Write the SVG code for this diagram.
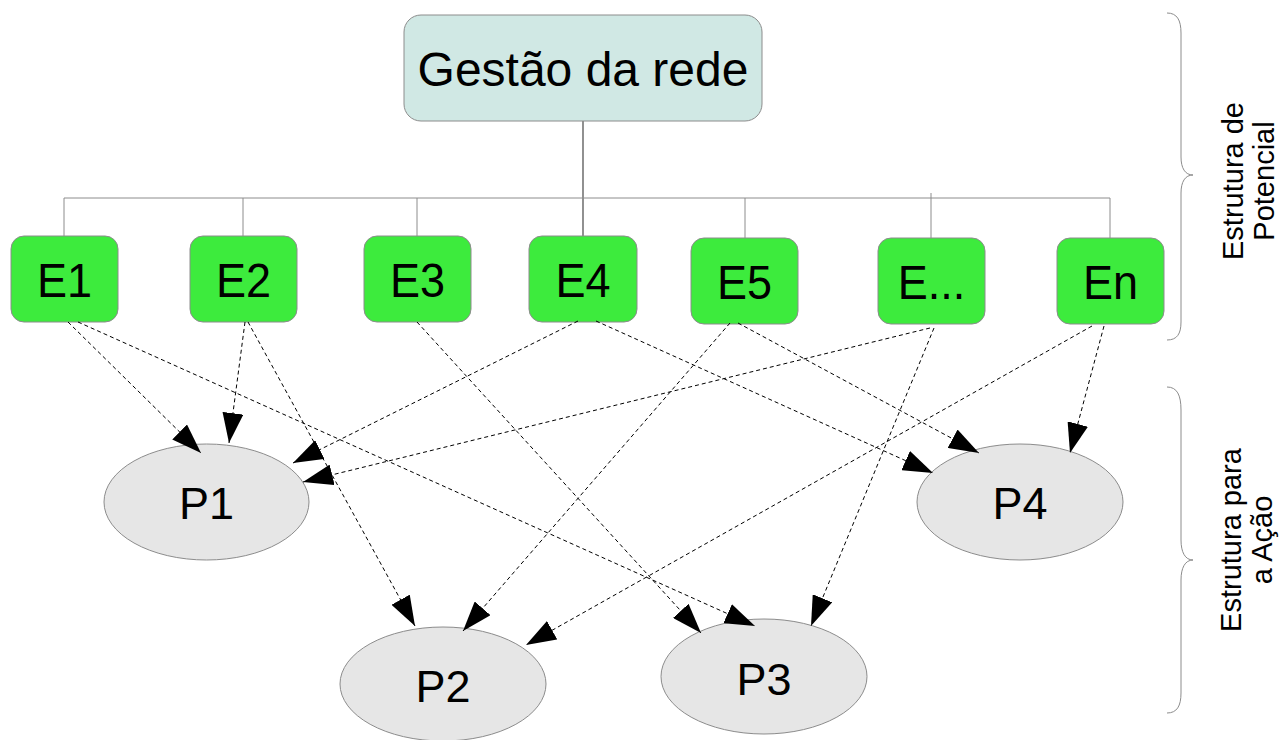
<svg xmlns="http://www.w3.org/2000/svg" width="1281" height="740" viewBox="0 0 1281 740">
  <defs>
    <marker id="arrow" markerUnits="userSpaceOnUse" markerWidth="30" markerHeight="21" refX="30" refY="10.5" orient="auto">
      <path d="M0,0 L30,10.5 L0,21 Z" fill="#000"/>
    </marker>
    <style>
      .label { font-family: "Liberation Sans", Arial, sans-serif; fill: #000; text-anchor: middle; }
      .title { font-size: 48px; }
      .ent { font-size: 45px; }
      .side { font-size: 29px; }
      .ebox { fill: #3deb3d; stroke: #8c8c8c; stroke-width: 1; }
      .pell { fill: #e6e6e6; stroke: #8c8c8c; stroke-width: 1; }
      .tree { fill: none; stroke: #8c8c8c; stroke-width: 1; }
      .flow { fill: none; stroke: #000; stroke-width: 1; stroke-dasharray: 4 3; marker-end: url(#arrow); }
      .brace { fill: none; stroke: #8c8c8c; stroke-width: 1; }
    </style>
  </defs>

  <rect width="1281" height="740" fill="#fff"/>

  <!-- hierarchy lines -->
  <g id="tree-lines">
    <line class="tree" x1="583" y1="121" x2="583" y2="236" style="stroke:#555;stroke-width:1.3"/>
    <line class="tree" x1="64" y1="198" x2="1110" y2="198"/>
    <line class="tree" x1="64" y1="198" x2="64" y2="236"/>
    <line class="tree" x1="243" y1="198" x2="243" y2="236"/>
    <line class="tree" x1="417" y1="198" x2="417" y2="236"/>
    <line class="tree" x1="745" y1="198" x2="745" y2="238"/>
    <line class="tree" x1="931" y1="193" x2="931" y2="238"/>
    <line class="tree" x1="1110" y1="198" x2="1110" y2="238"/>
  </g>

  <g id="gestao">
    <rect x="404" y="15" width="358" height="106" rx="17" fill="#d0e8e4" stroke="#8c8c8c"/>
    <text class="label title" x="583" y="86">Gestão da rede</text>
  </g>

  <!-- entity labels are drawn slightly tall -->
  <g id="E1"><rect class="ebox" x="11" y="236" width="107" height="86" rx="13"/><text class="label ent" transform="translate(64.5,297) scale(1,1.07)">E1</text></g>
  <g id="E2"><rect class="ebox" x="190" y="236" width="107" height="86" rx="13"/><text class="label ent" transform="translate(243.5,297) scale(1,1.07)">E2</text></g>
  <g id="E3"><rect class="ebox" x="364" y="236" width="107" height="86" rx="13"/><text class="label ent" transform="translate(417.5,297) scale(1,1.07)">E3</text></g>
  <g id="E4"><rect class="ebox" x="529" y="236" width="108" height="86" rx="13"/><text class="label ent" transform="translate(583,297) scale(1,1.07)">E4</text></g>
  <g id="E5"><rect class="ebox" x="691" y="238" width="107" height="86" rx="13"/><text class="label ent" transform="translate(744.5,299) scale(1,1.07)">E5</text></g>
  <g id="Edots"><rect class="ebox" x="878" y="238" width="107" height="86" rx="13"/><text class="label ent" transform="translate(931.5,299) scale(1,1.07)">E...</text></g>
  <g id="En"><rect class="ebox" x="1057" y="238" width="107" height="86" rx="13"/><text class="label ent" transform="translate(1110.5,299) scale(1,1.07)">En</text></g>

  <g id="P1"><ellipse class="pell" cx="206.5" cy="502" rx="102.5" ry="58"/><text class="label ent" x="206.5" y="519">P1</text></g>
  <g id="P2"><ellipse class="pell" cx="443" cy="684" rx="103" ry="57"/><text class="label ent" x="443" y="702">P2</text></g>
  <g id="P3"><ellipse class="pell" cx="764" cy="676.5" rx="103" ry="57.5"/><text class="label ent" x="764" y="695">P3</text></g>
  <g id="P4"><ellipse class="pell" cx="1020" cy="502" rx="103" ry="58"/><text class="label ent" x="1020" y="519">P4</text></g>

  <!-- dashed links from entities to projects -->
  <g id="connectors">
    <line class="flow" x1="68" y1="322" x2="201" y2="453"/>
    <line class="flow" x1="78" y1="322" x2="755" y2="626"/>
    <line class="flow" x1="245" y1="322" x2="229" y2="443"/>
    <line class="flow" x1="248" y1="322" x2="415" y2="626"/>
    <line class="flow" x1="417" y1="322" x2="701" y2="633"/>
    <line class="flow" x1="578" y1="321" x2="293" y2="463"/>
    <line class="flow" x1="596" y1="321" x2="933" y2="473"/>
    <line class="flow" x1="730" y1="323" x2="463" y2="631"/>
    <line class="flow" x1="738" y1="323" x2="979" y2="453"/>
    <line class="flow" x1="930" y1="328" x2="303" y2="482"/>
    <line class="flow" x1="934" y1="328" x2="811" y2="626"/>
    <line class="flow" x1="1092" y1="326" x2="526" y2="645"/>
    <line class="flow" x1="1104" y1="326" x2="1070" y2="453"/>
  </g>

  <!-- side braces and captions -->
  <g id="potencial">
    <path class="brace" d="M1167,13 C1177,13 1181,20 1181,33 L1181,157 C1181,168 1185,175 1193,175 C1185,175 1181,182 1181,193 L1181,322 C1181,334 1177,340 1167,340"/>
    <text class="label side" transform="translate(1243,181) rotate(-90)">Estrutura de</text>
    <text class="label side" transform="translate(1274,181) rotate(-90)">Potencial</text>
  </g>
  <g id="acao">
    <path class="brace" d="M1167,387 C1177,387 1181,395 1181,410 L1181,540 C1181,552 1185,560 1193,560 C1185,560 1181,568 1181,580 L1181,693 C1181,706 1177,713 1167,713"/>
    <text class="label side" transform="translate(1241,540) rotate(-90)">Estrutura para</text>
    <text class="label side" transform="translate(1272,540) rotate(-90)">a Ação</text>
  </g>
</svg>
